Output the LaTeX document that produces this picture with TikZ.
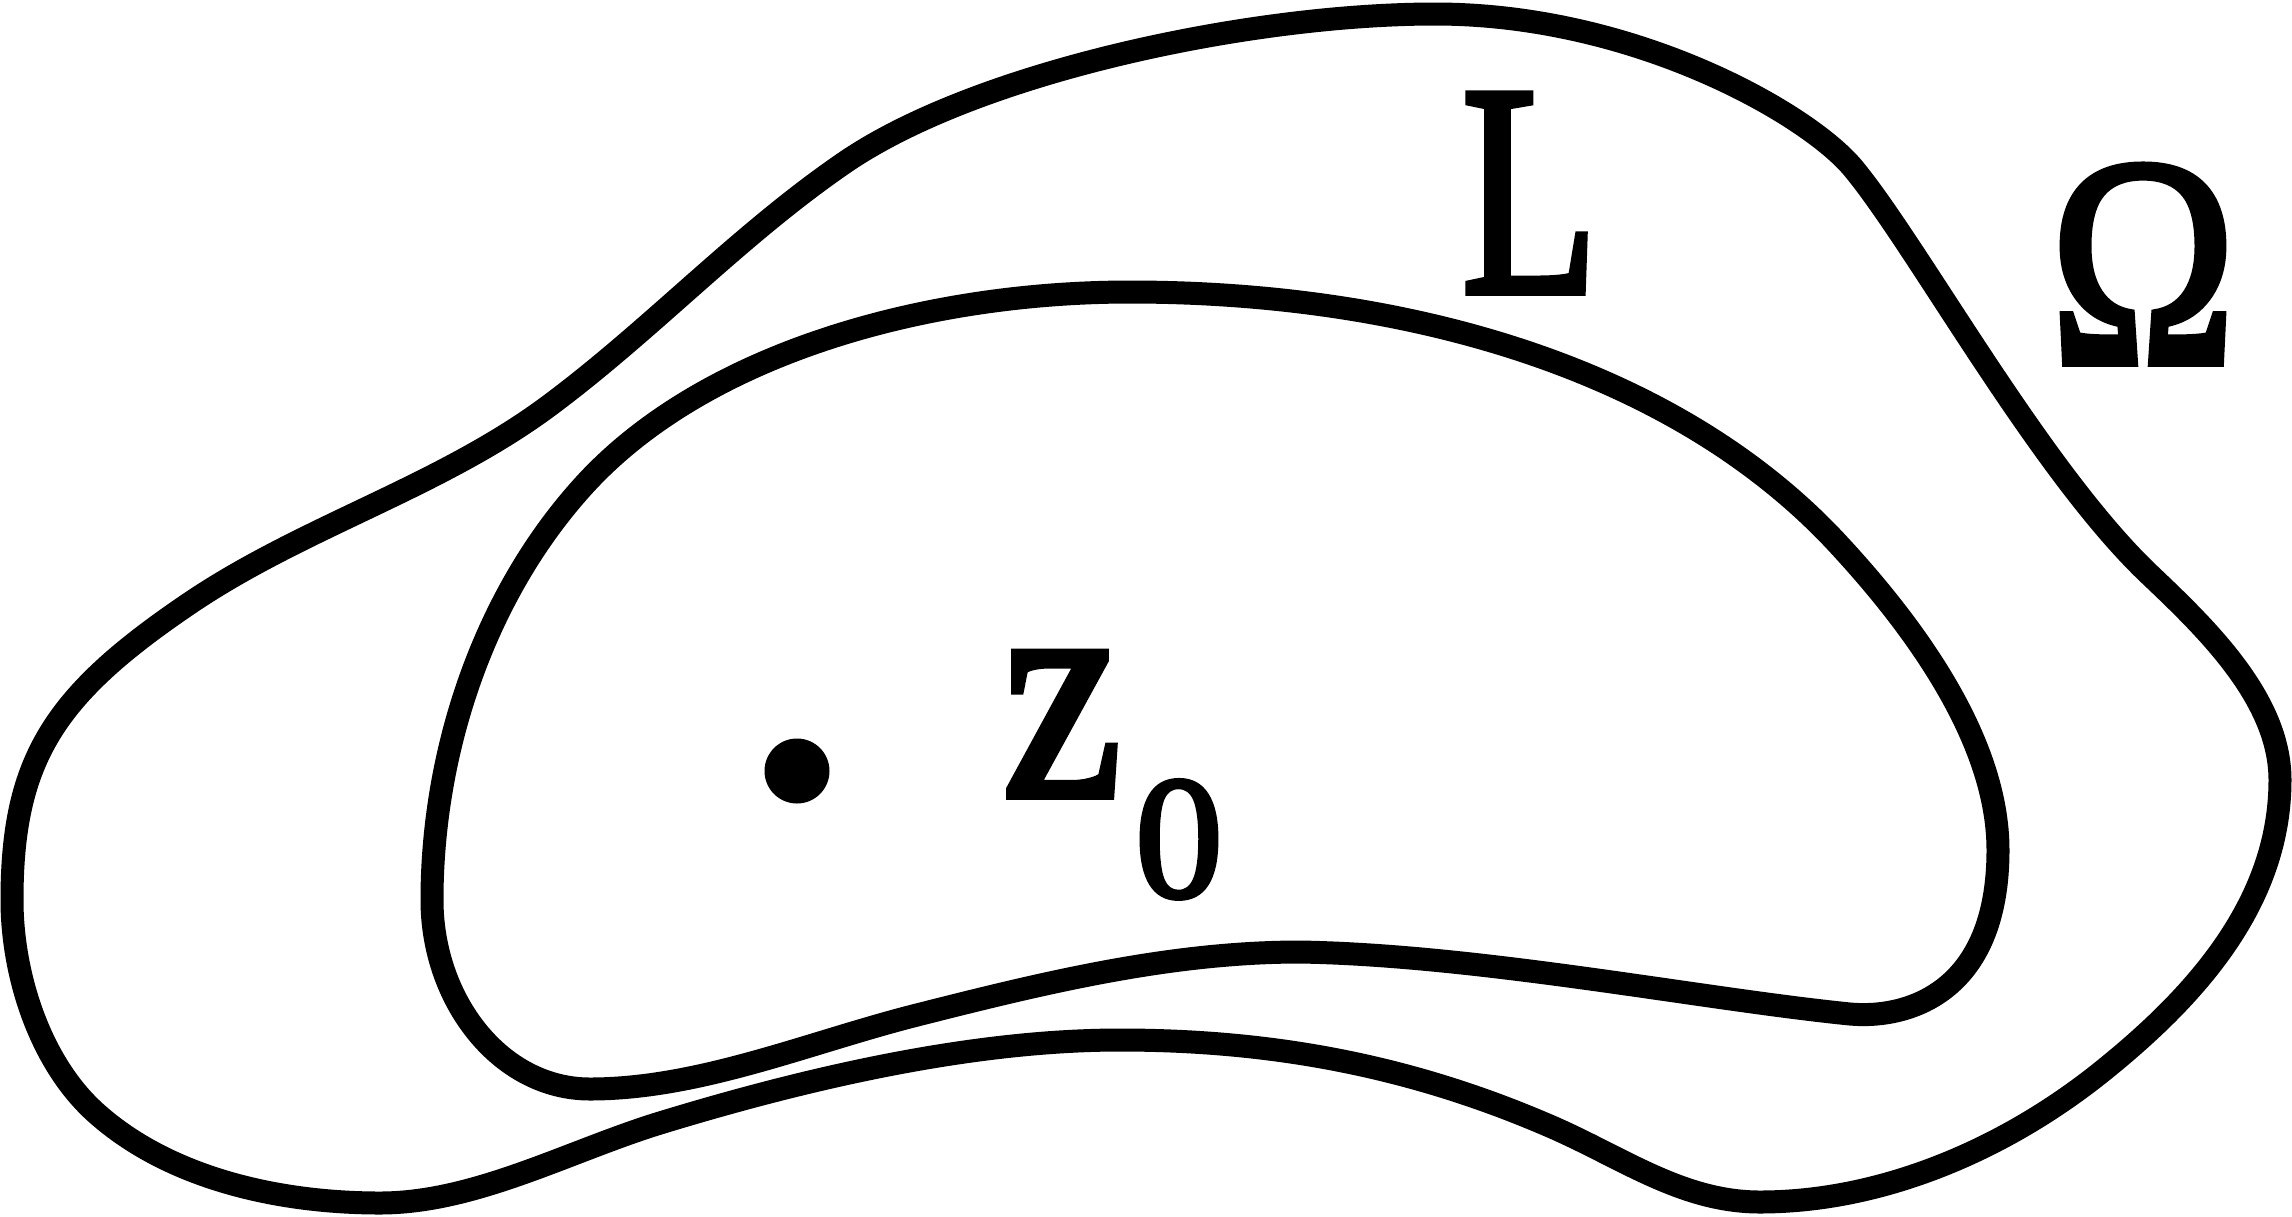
\documentclass[tikz,border=0pt]{standalone}
\usepackage{fontspec}
\setmainfont{Liberation Serif}
\newfontfamily\lblfont[FakeBold=2.5]{Liberation Serif}
\begin{document}
\begin{tikzpicture}[x=0.1mm,y=-0.1mm,
  curve/.style={line width=2.3mm,line join=round},
  lbl/.style={inner sep=0pt,outer sep=0pt,anchor=base}]
\useasboundingbox (0,0) rectangle (2292,1216);
% outer curve (boundary of Omega)
\draw[curve] (12,900)
  .. controls (12,759) and (54,695) .. (190,603)
  .. controls (304,526) and (440,487) .. (550,405)
  .. controls (652,329) and (739,235) .. (844,163)
  .. controls (976,72) and (1250,14) .. (1435,14)
  .. controls (1635,14) and (1808,114) .. (1853,168)
  .. controls (1917,245) and (2040,471) .. (2150,575)
  .. controls (2208,630) and (2280,700) .. (2280,780)
  .. controls (2280,900) and (2199,993) .. (2105,1069)
  .. controls (2004,1151) and (1880,1202) .. (1760,1202)
  .. controls (1680,1202) and (1619,1155) .. (1545,1124)
  .. controls (1407,1065) and (1270,1040) .. (1120,1040)
  .. controls (970,1040) and (804,1079) .. (660,1123)
  .. controls (569,1151) and (475,1203) .. (380,1203)
  .. controls (280,1203) and (169,1179) .. (95,1112)
  .. controls (40,1062) and (12,975) .. (12,900) -- cycle;
% inner curve L
\draw[curve] (432,900)
  .. controls (432,750) and (485,592) .. (587,482)
  .. controls (709,351) and (930,292) .. (1130,292)
  .. controls (1406,292) and (1676,368) .. (1839,545)
  .. controls (1914,626) and (1998,740) .. (1998,850)
  .. controls (1998,995) and (1905,1019) .. (1850,1014)
  .. controls (1701,999) and (1480,955) .. (1300,952)
  .. controls (1170,952) and (1043,983) .. (917,1015)
  .. controls (810,1042) and (700,1089) .. (590,1089)
  .. controls (500,1089) and (432,1000) .. (432,900) -- cycle;
% point z0
\node[circle,fill=black,inner sep=0pt,minimum size=6.5mm] (dot) at (797,771) {};
\node[lbl,font=\lblfont\fontsize{86pt}{86pt}\selectfont] (L) at (1530,292) {\scalebox{0.74}[1]{L}};
\node[lbl,font=\lblfont\fontsize{85pt}{85pt}\selectfont] (Omega) at (2143,363) {\scalebox{0.84}[1]{Ω}};
\node[lbl,font=\lblfont\fontsize{89pt}{89pt}\selectfont] (z) at (1062,796) {\scalebox{0.86}[1]{z}};
\node[lbl,font=\lblfont\fontsize{50pt}{50pt}\selectfont] (zsub) at (1179,897) {0};
\end{tikzpicture}
\end{document}
